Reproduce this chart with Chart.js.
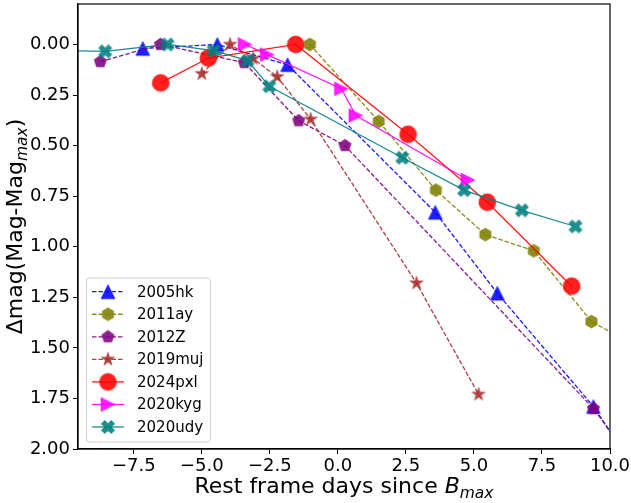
<!DOCTYPE html>
<html>
<head>
<meta charset="utf-8">
<script src="https://cdn.jsdelivr.net/npm/chart.js@4.4.0/dist/chart.umd.min.js"></script>
<style>
  body { margin: 0; background: #fff; }
  canvas { display: block; }
</style>
</head>
<body>
<canvas id="lc" width="631" height="503"></canvas>
<script>
// light curves: rest frame days since B max, and mag below peak
const names = ["2005hk", "2011ay", "2012Z", "2019muj", "2024pxl", "2020kyg", "2020udy"];

const days2005hk = [-7.17, -4.43, -1.85, 3.58, 5.86, 9.39, 11.0];
const dmag2005hk = [0.02, 0.0, 0.10, 0.83, 1.23, 1.79, 2.12];

const days2011ay = [-1.03, 1.50, 3.60, 5.42, 7.20, 9.32, 11.5];
const dmag2011ay = [0.0, 0.38, 0.72, 0.94, 1.02, 1.37, 1.53];

const days2012Z = [-8.73, -6.52, -3.44, -1.44, 0.26, 9.39, 11.0];
const dmag2012Z = [0.085, 0.0, 0.09, 0.377, 0.50, 1.80, 2.09];

const days2019muj = [-5.00, -3.96, -3.11, -2.23, -1.00, 2.89, 5.17];
const dmag2019muj = [0.145, 0.0, 0.07, 0.16, 0.37, 1.18, 1.73];

const days2024pxl = [-6.51, -4.76, -1.55, 2.58, 5.49, 8.59];
const dmag2024pxl = [0.19, 0.067, 0.0, 0.444, 0.78, 1.195];

const days2020kyg = [-3.41, -2.60, 0.13, 0.66, 4.78];
const dmag2020kyg = [0.0, 0.05, 0.219, 0.351, 0.67];

const days2020udy = [-10.5, -8.55, -6.26, -4.56, -3.32, -2.52, 2.37, 4.64, 6.76, 8.73];
const dmag2020udy = [0.03, 0.034, 0.0, 0.03, 0.08, 0.207, 0.56, 0.72, 0.82, 0.90];

const xTickValues = [-7.5, -5, -2.5, 0, 2.5, 5, 7.5, 10];
const yTickValues = [0, 0.25, 0.5, 0.75, 1, 1.25, 1.5, 1.75, 2];

const allDays = [days2005hk, days2011ay, days2012Z, days2019muj, days2024pxl, days2020kyg, days2020udy];
const allDmag = [dmag2005hk, dmag2011ay, dmag2012Z, dmag2019muj, dmag2024pxl, dmag2020kyg, dmag2020udy];

// look of each curve: rgb, marker shape, marker size (px), dashed or not
const looks = [
  { rgb: "0,0,255",     shape: "triUp",    size: 14, dashed: true },
  { rgb: "128,128,0",   shape: "hexagon",  size: 13, dashed: true },
  { rgb: "128,0,128",   shape: "pentagon", size: 13, dashed: true },
  { rgb: "165,42,42",   shape: "star",     size: 14, dashed: true },
  { rgb: "255,0,0",     shape: "circle",   size: 17, dashed: false },
  { rgb: "255,0,255",   shape: "triRight", size: 14, dashed: false },
  { rgb: "0,128,128",   shape: "xFilled",  size: 14, dashed: false }
];

const FONT = "'DejaVu Sans', sans-serif";
const DASH = [4.5, 2];

function polygonPath(g, n, r) {
  for (let k = 0; k < n; k++) {
    const a = -Math.PI / 2 + k * 2 * Math.PI / n;
    if (k === 0) g.moveTo(r * Math.cos(a), r * Math.sin(a));
    else g.lineTo(r * Math.cos(a), r * Math.sin(a));
  }
}

function starPath(g, r) {
  const inner = r * 0.381966;
  for (let k = 0; k < 10; k++) {
    const a = -Math.PI / 2 + k * Math.PI / 5;
    const rr = k % 2 === 0 ? r : inner;
    if (k === 0) g.moveTo(rr * Math.cos(a), rr * Math.sin(a));
    else g.lineTo(rr * Math.cos(a), rr * Math.sin(a));
  }
}

function xPath(g, s) {
  // filled plus, turned 45 degrees
  const pts = [[-1, -3], [1, -3], [1, -1], [3, -1], [3, 1], [1, 1], [1, 3], [-1, 3], [-1, 1], [-3, 1], [-3, -1], [-1, -1]];
  g.rotate(Math.PI / 4);
  pts.forEach((p, i) => {
    const px = p[0] / 6 * s, py = p[1] / 6 * s;
    if (i === 0) g.moveTo(px, py); else g.lineTo(px, py);
  });
}

function makeMarker(look) {
  const pad = 3;
  const c = document.createElement("canvas");
  c.width = c.height = Math.ceil(look.size + pad * 2);
  const g = c.getContext("2d");
  const m = c.width / 2, r = look.size / 2;
  g.translate(m, m);
  g.beginPath();
  if (look.shape === "circle") g.arc(0, 0, r, 0, Math.PI * 2);
  else if (look.shape === "triUp") { g.moveTo(0, -r); g.lineTo(r, r); g.lineTo(-r, r); }
  else if (look.shape === "triRight") { g.moveTo(r, 0); g.lineTo(-r, r); g.lineTo(-r, -r); }
  else if (look.shape === "hexagon") polygonPath(g, 6, r);
  else if (look.shape === "pentagon") polygonPath(g, 5, r);
  else if (look.shape === "star") starPath(g, r);
  else if (look.shape === "xFilled") xPath(g, look.size);
  g.closePath();
  g.fillStyle = `rgba(${look.rgb},0.88)`;
  g.fill();
  g.lineWidth = 1;
  g.strokeStyle = `rgba(${look.rgb},0.5)`;
  g.stroke();
  return c;
}

const markers = looks.map(makeMarker);

const datasets = names.map((name, i) => ({
  label: name,
  data: allDays[i].map((d, k) => ({ x: d, y: allDmag[i][k] })),
  showLine: true,
  borderColor: `rgba(${looks[i].rgb},0.9)`,
  borderWidth: 1.3,
  borderDash: looks[i].dashed ? DASH : [],
  pointStyle: markers[i],
  pointRadius: looks[i].size / 2,
  pointHoverRadius: looks[i].size / 2,
  tension: 0,
  order: names.length - i
}));

// draw text pieces one after another, centred on (x, y)
function drawRich(ctx, parts, x, y) {
  let total = 0;
  parts.forEach(p => { ctx.font = p.font; total += ctx.measureText(p.t).width; });
  let cx = x - total / 2;
  parts.forEach(p => {
    ctx.font = p.font;
    ctx.fillText(p.t, cx, y + (p.dy || 0));
    cx += ctx.measureText(p.t).width;
  });
}

const decorations = {
  id: "decorations",
  afterDraw(chart) {
    const { ctx, chartArea: a } = chart;
    ctx.save();

    // frame
    ctx.strokeStyle = "#000";
    ctx.lineWidth = 1.2;
    ctx.strokeRect(a.left, a.top, a.right - a.left, a.bottom - a.top);

    // axis titles
    ctx.fillStyle = "#000";
    ctx.textBaseline = "alphabetic";
    ctx.textAlign = "left";
    drawRich(ctx, [
      { t: "Rest frame days since ", font: `22px ${FONT}` },
      { t: "B", font: `italic 22px ${FONT}` },
      { t: "max", font: `italic 15.5px ${FONT}`, dy: 5 }
    ], (a.left + a.right) / 2, 493);

    ctx.save();
    ctx.translate(22, (a.top + a.bottom) / 2);
    ctx.rotate(-Math.PI / 2);
    drawRich(ctx, [
      { t: "\u0394mag(Mag-Mag", font: `22px ${FONT}` },
      { t: "max", font: `italic 15.5px ${FONT}`, dy: 5 },
      { t: ")", font: `22px ${FONT}` }
    ], 0, 0);
    ctx.restore();

    // legend box
    const lx = 86.5, ly = 278, lw = 124, lh = 164;
    ctx.beginPath();
    ctx.roundRect(lx, ly, lw, lh, 3);
    ctx.fillStyle = "rgba(255,255,255,0.8)";
    ctx.fill();
    ctx.strokeStyle = "#d0d0d0";
    ctx.lineWidth = 1;
    ctx.stroke();

    ctx.font = `15px ${FONT}`;
    ctx.textBaseline = "middle";
    names.forEach((name, i) => {
      const yy = 291.7 + i * 22.55;
      ctx.beginPath();
      ctx.setLineDash(looks[i].dashed ? DASH : []);
      ctx.strokeStyle = `rgba(${looks[i].rgb},0.9)`;
      ctx.lineWidth = 1.3;
      ctx.moveTo(92, yy);
      ctx.lineTo(124, yy);
      ctx.stroke();
      ctx.setLineDash([]);
      const mk = markers[i];
      ctx.drawImage(mk, 108 - mk.width / 2, yy - mk.height / 2);
      ctx.fillStyle = "#000";
      ctx.fillText(name, 137, yy + 1);
    });

    ctx.restore();
  }
};

new Chart(document.getElementById("lc"), {
  type: "scatter",
  data: { datasets },
  options: {
    responsive: false,
    animation: false,
    events: [],
    layout: { autoPadding: false, padding: { top: 4, right: 21, left: 0, bottom: 0 } },
    plugins: { legend: { display: false }, tooltip: { enabled: false } },
    scales: {
      x: {
        type: "linear",
        min: -9.55,
        max: 10,
        afterBuildTicks: s => { s.ticks = xTickValues.map(v => ({ value: v })); },
        afterFit: s => { s.height = 54; s.paddingLeft = 0; s.paddingRight = 0; },
        ticks: {
          color: "#000",
          font: { family: FONT, size: 18 },
          padding: 2,
          maxRotation: 0,
          autoSkip: false,
          callback: v => v.toFixed(1).replace("-", "\u2212")
        },
        grid: { drawOnChartArea: false, drawTicks: true, tickLength: 5, tickColor: "#000", tickWidth: 1 },
        border: { display: true, color: "#000", width: 1.2 }
      },
      y: {
        type: "linear",
        reverse: true,
        min: -0.2,
        max: 2.0,
        afterBuildTicks: s => { s.ticks = yTickValues.map(v => ({ value: v })); },
        afterFit: s => { s.width = 78; s.paddingTop = 0; s.paddingBottom = 0; },
        ticks: {
          color: "#000",
          font: { family: FONT, size: 18 },
          padding: 3,
          autoSkip: false,
          callback: v => v.toFixed(2)
        },
        grid: { drawOnChartArea: false, drawTicks: true, tickLength: 5, tickColor: "#000", tickWidth: 1 },
        border: { display: true, color: "#000", width: 1.2 }
      }
    }
  },
  plugins: [decorations]
});
</script>
</body>
</html>
